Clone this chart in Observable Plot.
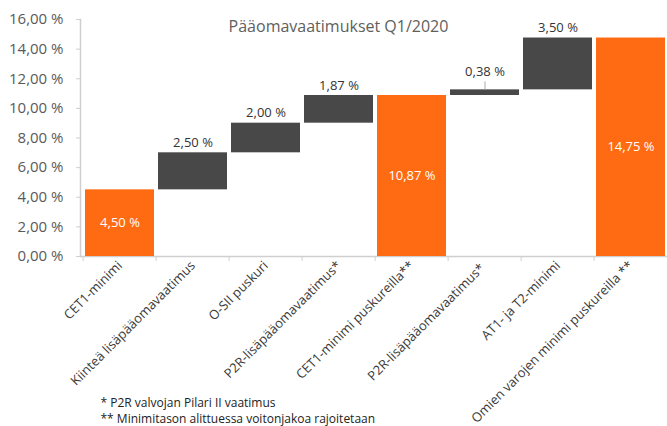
<!DOCTYPE html>
<html>
<head>
<meta charset="utf-8">
<script src="https://cdn.jsdelivr.net/npm/d3@7"></script>
<script src="https://cdn.jsdelivr.net/npm/@observablehq/plot@0.6"></script>
<style>
  html, body { margin: 0; padding: 0; background: #fff; overflow: hidden; }
  #chart { width: 667px; height: 426px; overflow: hidden; }
</style>
</head>
<body>
<div id="chart"></div>
<script>
const title = "Pääomavaatimukset Q1/2020";
const categories = [
  "CET1-minimi",
  "Kiinteä lisäpääomavaatimus",
  "O-SII puskuri",
  "P2R-lisäpääomavaatimus*",
  "CET1-minimi puskureilla**",
  "P2R-lisäpääomavaatimus* ",
  "AT1- ja T2-minimi",
  "Omien varojen minimi puskureilla **"
];
const values = [4.50, 2.50, 2.00, 1.87, 10.87, 0.38, 3.50, 14.75];
const kinds = ["total", "step", "step", "step", "total", "step", "step", "total"];
const yTicks = [0, 2, 4, 6, 8, 10, 12, 14, 16];
const footnotes = [
  "* P2R valvojan Pilari II vaatimus",
  "** Minimitason alittuessa voitonjakoa rajoitetaan"
];

const loc = d3.formatLocale({decimal: ",", thousands: " ", grouping: [3], currency: ["", "€"]});
const f2 = loc.format(".2f");
const pct = v => f2(v) + " %";

let running = 0;
const rows = categories.map((c, i) => {
  const v = values[i];
  let y1, y2;
  if (kinds[i] === "total") { y1 = 0; y2 = v; running = v; }
  else { y1 = running; y2 = running + v; running = y2; }
  return {cat: c, v, kind: kinds[i], y1, y2, mid: (y1 + y2) / 2};
});

const ORANGE = "#ff6b12";
const DARK = "#484848";
const FONT = "'Open Sans', 'Noto Sans', sans-serif";

const W = 667, H = 426, ML = 80, MR = 0, MT = 19, MB = 170;
const XR = 670;
const band = (XR - ML) / categories.length;

const chart = Plot.plot({
  width: W,
  height: H,
  marginLeft: ML,
  marginRight: MR,
  marginTop: MT,
  marginBottom: MB,
  style: {fontFamily: FONT, background: "#fff", overflow: "hidden"},
  x: {type: "band", domain: categories, padding: 0.05, range: [ML, XR], label: null},
  y: {type: "linear", domain: [0, 16], label: null},
  marks: [
    Plot.axisY({ticks: yTicks, tickFormat: pct, tickSize: 4, tickPadding: 13, fontSize: 15, color: "#5a5a5a", stroke: "#cfcfcf", label: null}),
    Plot.axisX({tickRotate: -45, tickSize: 0, tickPadding: 7, fontSize: 13, color: "#3a3a3a", label: null}),
    Plot.frame({anchor: "left", stroke: "#cfcfcf", strokeWidth: 1.5}),
    Plot.ruleY([0], {stroke: "#cfcfcf", strokeWidth: 1.5}),
    Plot.ruleX(categories, {x: d => d, y1: 0, y2: 0, dx: -band / 2, stroke: "#cfcfcf", insetBottom: -5}),
    Plot.barY(rows, {x: "cat", y1: "y1", y2: "y2", fill: d => d.kind === "total" ? ORANGE : DARK}),
    Plot.text(rows.filter(d => d.kind === "total"), {x: "cat", y: "mid", text: d => pct(d.v), fill: "white", fontSize: 13}),
    Plot.text(rows.filter(d => d.kind === "step" && d.v >= 1), {x: "cat", y: "y2", text: d => pct(d.v), fill: "#333", fontSize: 13, dy: -10}),
    Plot.ruleX(rows.filter(d => d.kind === "step" && d.v < 1), {x: "cat", y1: "y2", y2: "y2", insetTop: -8, stroke: "#aaa"}),
    Plot.text(rows.filter(d => d.kind === "step" && d.v < 1), {x: "cat", y: "y2", text: d => pct(d.v), fill: "#333", fontSize: 13, dy: -18}),
    Plot.text([title], {frameAnchor: "top-left", dx: 258, dy: 7, textAnchor: "middle", lineAnchor: "middle", fontSize: 16, fill: "#606060"}),
    Plot.text([footnotes[0]], {frameAnchor: "bottom-left", dx: 20, dy: 147, textAnchor: "start", lineAnchor: "middle", fontSize: 12, fill: "#222"}),
    Plot.text([footnotes[1]], {frameAnchor: "bottom-left", dx: 20, dy: 163, textAnchor: "start", lineAnchor: "middle", fontSize: 12, fill: "#222"})
  ]
});
document.getElementById("chart").appendChild(chart);
</script>
</body>
</html>
